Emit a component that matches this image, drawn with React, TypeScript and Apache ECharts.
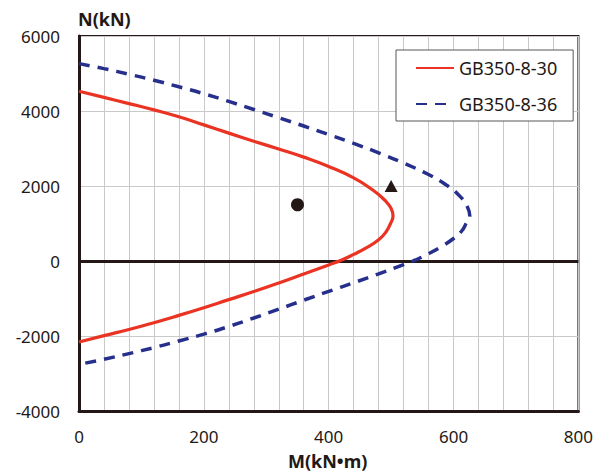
import React, { useEffect, useRef } from "react";
import * as echarts from "echarts";

const seriesNames = ["GB350-8-30", "GB350-8-36"];

const curve30: [number, number][] = [
  [0, 4525], [40, 4362], [80, 4198], [120, 4030], [160, 3845], [200, 3630],
  [240, 3410], [280, 3195], [320, 2985], [360, 2770], [400, 2520], [440, 2215],
  [470, 1900], [490, 1620], [500, 1400], [503, 1200], [499, 1000], [492, 780],
  [480, 565], [460, 350], [440, 175], [420, 20], [400, -105], [360, -345],
  [320, -585], [280, -815], [240, -1030], [200, -1245], [160, -1450],
  [120, -1645], [80, -1825], [40, -1990], [0, -2160],
];

const curve36: [number, number][] = [
  [0, 5264], [40, 5130], [80, 4980], [120, 4820], [160, 4645], [200, 4460],
  [240, 4255], [280, 4040], [320, 3820], [360, 3600], [400, 3370], [440, 3135],
  [480, 2885], [520, 2610], [560, 2305], [590, 2010], [610, 1730], [622, 1450],
  [626, 1200], [620, 1000], [613, 800], [600, 600], [580, 380], [560, 195],
  [535, 0], [520, -95], [480, -345], [440, -580], [400, -810], [360, -1045],
  [320, -1285], [280, -1520], [240, -1745], [200, -1950], [160, -2133],
  [120, -2309], [80, -2469], [40, -2621], [0, -2755],
];

const circlePoints: [number, number][] = [[350, 1500]];
const trianglePoints: [number, number][] = [[500, 2000]];

const xTicks = { min: 0, max: 800, interval: 200 };
const yTicks = { min: -4000, max: 6000, interval: 2000 };

const xName = "M(kN•m)";
const yName = "N(kN)";

const dark = "#231815";
const red = "#ea3323";
const blue = "#272f8c";
const font = "'Noto Sans', sans-serif";

export default function App() {
  const ref = useRef<HTMLDivElement>(null);

  useEffect(() => {
    document.body.style.margin = "0";
    if (!ref.current) return;
    const chart = echarts.init(ref.current, undefined, { renderer: "svg" });
    chart.setOption({
      animation: false,
      backgroundColor: "#fff",
      textStyle: { fontFamily: font },
      grid: {
        left: 79,
        top: 36,
        right: 17,
        bottom: 61,
        show: true,
        borderColor: dark,
        borderWidth: 2,
        backgroundColor: "transparent",
      },
      legend: {
        data: seriesNames,
        orient: "vertical",
        left: 396,
        top: 50,
        padding: [8, 16, 7, 19],
        itemGap: 16,
        itemWidth: 38,
        itemHeight: 14,
        backgroundColor: "#fff",
        borderColor: "#595757",
        borderWidth: 1,
        borderRadius: 0,
        itemStyle: { opacity: 0 },
        textStyle: { fontSize: 18, lineHeight: 20, color: dark, fontFamily: font },
      },
      xAxis: {
        type: "value",
        min: xTicks.min,
        max: xTicks.max,
        interval: xTicks.interval,
        axisLine: { show: true, onZero: false, lineStyle: { color: dark, width: 3 } },
        axisTick: { show: false },
        axisLabel: { fontSize: 17, color: dark, margin: 17, fontFamily: font },
        splitLine: { show: true, lineStyle: { color: "#c9c9c9", width: 1 } },
        minorTick: { show: false, splitNumber: 5 },
        minorSplitLine: { show: true, lineStyle: { color: "#c9c9c9", width: 1 } },
      },
      yAxis: {
        type: "value",
        min: yTicks.min,
        max: yTicks.max,
        interval: yTicks.interval,
        axisLine: { show: true, onZero: false, lineStyle: { color: dark, width: 3 } },
        axisTick: { show: false },
        axisLabel: {
          fontSize: 17,
          color: dark,
          margin: 19,
          fontFamily: font,
          formatter: (v: number) => String(v),
        },
        splitLine: { show: true, lineStyle: { color: "#c9c9c9", width: 1 } },
      },
      graphic: [
        {
          type: "text",
          left: 78,
          top: 10,
          style: { text: yName, font: `bold 18px ${font}`, fill: dark },
        },
        {
          type: "text",
          left: 288,
          top: 452,
          style: { text: xName, font: `bold 18px ${font}`, fill: dark },
        },
      ],
      series: [
        {
          name: seriesNames[0],
          type: "line",
          data: curve30,
          smooth: 0.5,
          symbol: "none",
          lineStyle: { color: red, width: 3.2 },
          itemStyle: { color: red },
          z: 3,
          markLine: {
            silent: true,
            symbol: ["none", "none"],
            label: { show: false },
            lineStyle: { color: dark, width: 3, type: "solid" },
            data: [{ yAxis: 0 }],
            z: 1,
          },
        },
        {
          name: seriesNames[1],
          type: "line",
          data: curve36,
          smooth: 0.5,
          symbol: "none",
          lineStyle: { color: blue, width: 3.5, type: [11, 8] },
          itemStyle: { color: blue },
          z: 3,
        },
        {
          name: "circle",
          type: "scatter",
          data: circlePoints,
          symbol: "circle",
          symbolSize: 13,
          itemStyle: { color: dark, opacity: 1 },
          z: 4,
        },
        {
          name: "triangle",
          type: "scatter",
          data: trianglePoints,
          symbol: "triangle",
          symbolSize: [13, 12],
          itemStyle: { color: dark, opacity: 1 },
          z: 4,
        },
      ],
    });
    return () => chart.dispose();
  }, []);

  return <div ref={ref} style={{ width: 596, height: 472 }} />;
}
